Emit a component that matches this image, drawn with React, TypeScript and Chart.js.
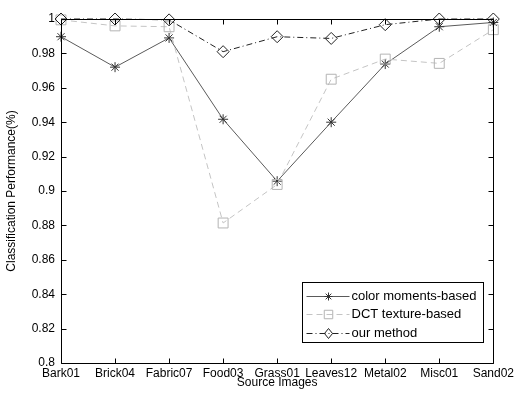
import React, { useEffect, useRef } from 'react';
import { Chart, registerables } from 'chart.js';

Chart.register(...registerables);

const categories = ['Bark01', 'Brick04', 'Fabric07', 'Food03', 'Grass01', 'Leaves12', 'Metal02', 'Misc01', 'Sand02'];
const colorMoments = [0.9897, 0.972, 0.989, 0.9417, 0.9057, 0.94, 0.9738, 0.9955, 0.998];
const dctTexture = [0.9995, 0.996, 0.9955, 0.8814, 0.9038, 0.965, 0.9767, 0.9742, 0.9938];
const ourMethod = [1.0, 1.0, 0.9995, 0.981, 0.9897, 0.9887, 0.9967, 1.0, 1.0];
const yTicks = [0.8, 0.82, 0.84, 0.86, 0.88, 0.9, 0.92, 0.94, 0.96, 0.98, 1];
const yTickLabels = ['0.8', '0.82', '0.84', '0.86', '0.88', '0.9', '0.92', '0.94', '0.96', '0.98', '1'];
const seriesLabels = ['color moments-based', 'DCT texture-based', 'our method'];

const FONT = '"Liberation Sans", Arial, Helvetica, sans-serif';

function drawMarker(ctx: CanvasRenderingContext2D, style: string, x: number, y: number, r: number) {
  ctx.beginPath();
  if (style === 'star') {
    const d = r * Math.SQRT1_2;
    ctx.moveTo(x - r, y); ctx.lineTo(x + r, y);
    ctx.moveTo(x, y - r); ctx.lineTo(x, y + r);
    ctx.moveTo(x - d, y - d); ctx.lineTo(x + d, y + d);
    ctx.moveTo(x - d, y + d); ctx.lineTo(x + d, y - d);
  } else if (style === 'rect') {
    const s = r * Math.SQRT1_2;
    ctx.rect(x - s, y - s, 2 * s, 2 * s);
  } else {
    ctx.moveTo(x, y - r); ctx.lineTo(x + r * 0.8, y); ctx.lineTo(x, y + r); ctx.lineTo(x - r * 0.8, y); ctx.closePath();
  }
  ctx.stroke();
}

export default function App() {
  const ref = useRef<HTMLCanvasElement>(null);

  useEffect(() => {
    if (!ref.current) return;
    const styles = [
      { line: '#5a5a5a', point: '#333333', dash: [] as number[], marker: 'star', r: 5 },
      { line: '#c4c4c4', point: '#b4b4b4', dash: [6, 4], marker: 'rect', r: 7 },
      { line: '#222222', point: '#222222', dash: [6, 3, 1, 3], marker: 'rectRot', r: 6 },
    ];

    const boxPlugin = {
      id: 'matlabBox',
      afterDraw(chart: any) {
        const { ctx, chartArea: a, scales } = chart;
        ctx.save();
        ctx.strokeStyle = '#000';
        ctx.lineWidth = 1;
        ctx.setLineDash([]);
        const L = Math.round(a.left) + 0.5, T = Math.round(a.top) + 0.5;
        const R = Math.round(a.right) + 0.5, B = Math.round(a.bottom) + 0.5;
        ctx.beginPath();
        ctx.rect(L, T, R - L, B - T);
        const tl = 5;
        scales.x.ticks.forEach((_t: any, i: number) => {
          const x = Math.round(scales.x.getPixelForTick(i)) + 0.5;
          ctx.moveTo(x, B); ctx.lineTo(x, B - tl);
          ctx.moveTo(x, T); ctx.lineTo(x, T + tl);
        });
        scales.y.ticks.forEach((_t: any, i: number) => {
          const y = Math.round(scales.y.getPixelForTick(i)) + 0.5;
          ctx.moveTo(L, y); ctx.lineTo(L + tl, y);
          ctx.moveTo(R, y); ctx.lineTo(R - tl, y);
        });
        ctx.stroke();

        // legend
        ctx.font = '13px ' + FONT;
        const tw = Math.max(...seriesLabels.map((s) => ctx.measureText(s).width));
        const bw = Math.round(49 + tw + 7);
        const bh = 60;
        const bx = Math.round(a.right - 10 - bw) + 0.5;
        const by = Math.round(a.bottom - 21 - bh) + 0.5;
        ctx.fillStyle = '#fff';
        ctx.fillRect(bx, by, bw, bh);
        ctx.strokeStyle = '#000';
        ctx.strokeRect(bx, by, bw, bh);
        seriesLabels.forEach((lab, i) => {
          const st = styles[i];
          const y = Math.round(by + 13 + i * 18.5) + 0.5;
          ctx.strokeStyle = st.line;
          ctx.setLineDash(st.dash);
          ctx.beginPath();
          ctx.moveTo(bx + 4, y); ctx.lineTo(bx + 47, y);
          ctx.stroke();
          ctx.setLineDash([]);
          ctx.strokeStyle = st.point;
          drawMarker(ctx, st.marker, bx + 26, y, st.r - 1);
          ctx.fillStyle = '#000';
          ctx.textBaseline = 'middle';
          ctx.textAlign = 'left';
          ctx.fillText(lab, bx + 49, y);
        });
        ctx.restore();
      },
    };

    const series = [colorMoments, dctTexture, ourMethod];
    const chart = new Chart(ref.current, {
      type: 'line',
      data: {
        labels: categories,
        datasets: series.map((d, i) => ({
          label: seriesLabels[i],
          data: d,
          borderColor: styles[i].line,
          borderWidth: 1,
          borderDash: styles[i].dash,
          pointStyle: styles[i].marker as any,
          pointRadius: styles[i].r,
          pointBorderColor: styles[i].point,
          pointBackgroundColor: 'rgba(0,0,0,0)',
          pointBorderWidth: 1,
          tension: 0,
          fill: false,
          clip: false as any,
          order: 2 - i,
        })),
      },
      options: {
        responsive: false,
        animation: false,
        devicePixelRatio: 1,
        layout: { padding: { left: 0, right: 22, top: 19, bottom: 0 } },
        plugins: { legend: { display: false }, tooltip: { enabled: false } },
        scales: {
          x: {
            type: 'category',
            offset: false,
            grid: { display: false, drawTicks: false },
            border: { display: false },
            ticks: { color: '#000', font: { family: FONT, size: 12 }, padding: 3, maxRotation: 0, autoSkip: false },
            title: { display: true, text: 'Source Images', color: '#000', font: { family: FONT, size: 12 }, padding: { top: 0, bottom: 6 } },
            afterFit: (s: any) => { s.height = 33; },
          },
          y: {
            type: 'linear',
            min: 0.8,
            max: 1,
            grid: { display: false, drawTicks: false },
            border: { display: false },
            afterBuildTicks: (s: any) => { s.ticks = yTicks.map((v) => ({ value: v })); },
            ticks: {
              color: '#000',
              font: { family: FONT, size: 12 },
              padding: 6,
              callback: (v: any) => yTickLabels[yTicks.findIndex((t) => Math.abs(t - Number(v)) < 1e-6)] ?? '',
            },
            title: { display: true, text: 'Classification Performance(%)', color: '#000', font: { family: FONT, size: 12 }, padding: { top: 4, bottom: 0 } },
            afterFit: (s: any) => { s.width = 61; },
          },
        },
      },
      plugins: [boxPlugin],
    });
    return () => chart.destroy();
  }, []);

  return (
    <div style={{ position: 'absolute', left: 0, top: 0, width: 517, height: 396, background: '#fff' }}>
      <canvas ref={ref} width={517} height={396} style={{ display: 'block', width: 517, height: 396 }} />
    </div>
  );
}
